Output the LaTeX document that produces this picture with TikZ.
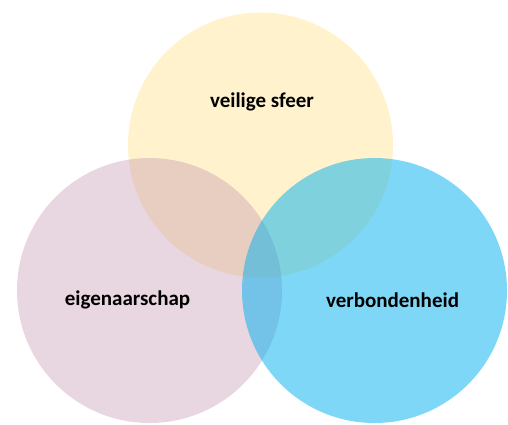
\documentclass[tikz,border=0pt]{standalone}
\usepackage{fontspec}
\setmainfont{Carlito}
\usepackage{tikz}
\usetikzlibrary{positioning}
\definecolor{safeyellow}{RGB}{255,192,0}
\definecolor{ownpink}{RGB}{198,153,178}
\definecolor{linkblue}{RGB}{0,176,240}

\begin{document}
\begin{tikzpicture}[x=1pt,y=-1pt,
                    semithick]
 \tikzstyle{blob}=[circle, draw=none, inner sep=0pt, minimum size=265pt]
 \tikzstyle{word}=[text=black, font=\fontsize{21}{25}\selectfont\bfseries]
  \useasboundingbox (0,0) rectangle (508,424);
  \node[blob] (V) [fill=safeyellow, fill opacity=0.2] at (260.5,145) {};
  \node[blob] (E) [fill=ownpink, fill opacity=0.4] at (149.5,290.5) {};
  \node[blob] (B) [fill=linkblue, fill opacity=0.5] at (374.5,290.5) {};
\node[word] (Vt) at (262,102) {veilige sfeer};
\node[word] (Et) at (127.5,300) {eigenaarschap};
\node[word] (Bt) at (392.5,300) {verbondenheid};
\end{tikzpicture}
\end{document}
